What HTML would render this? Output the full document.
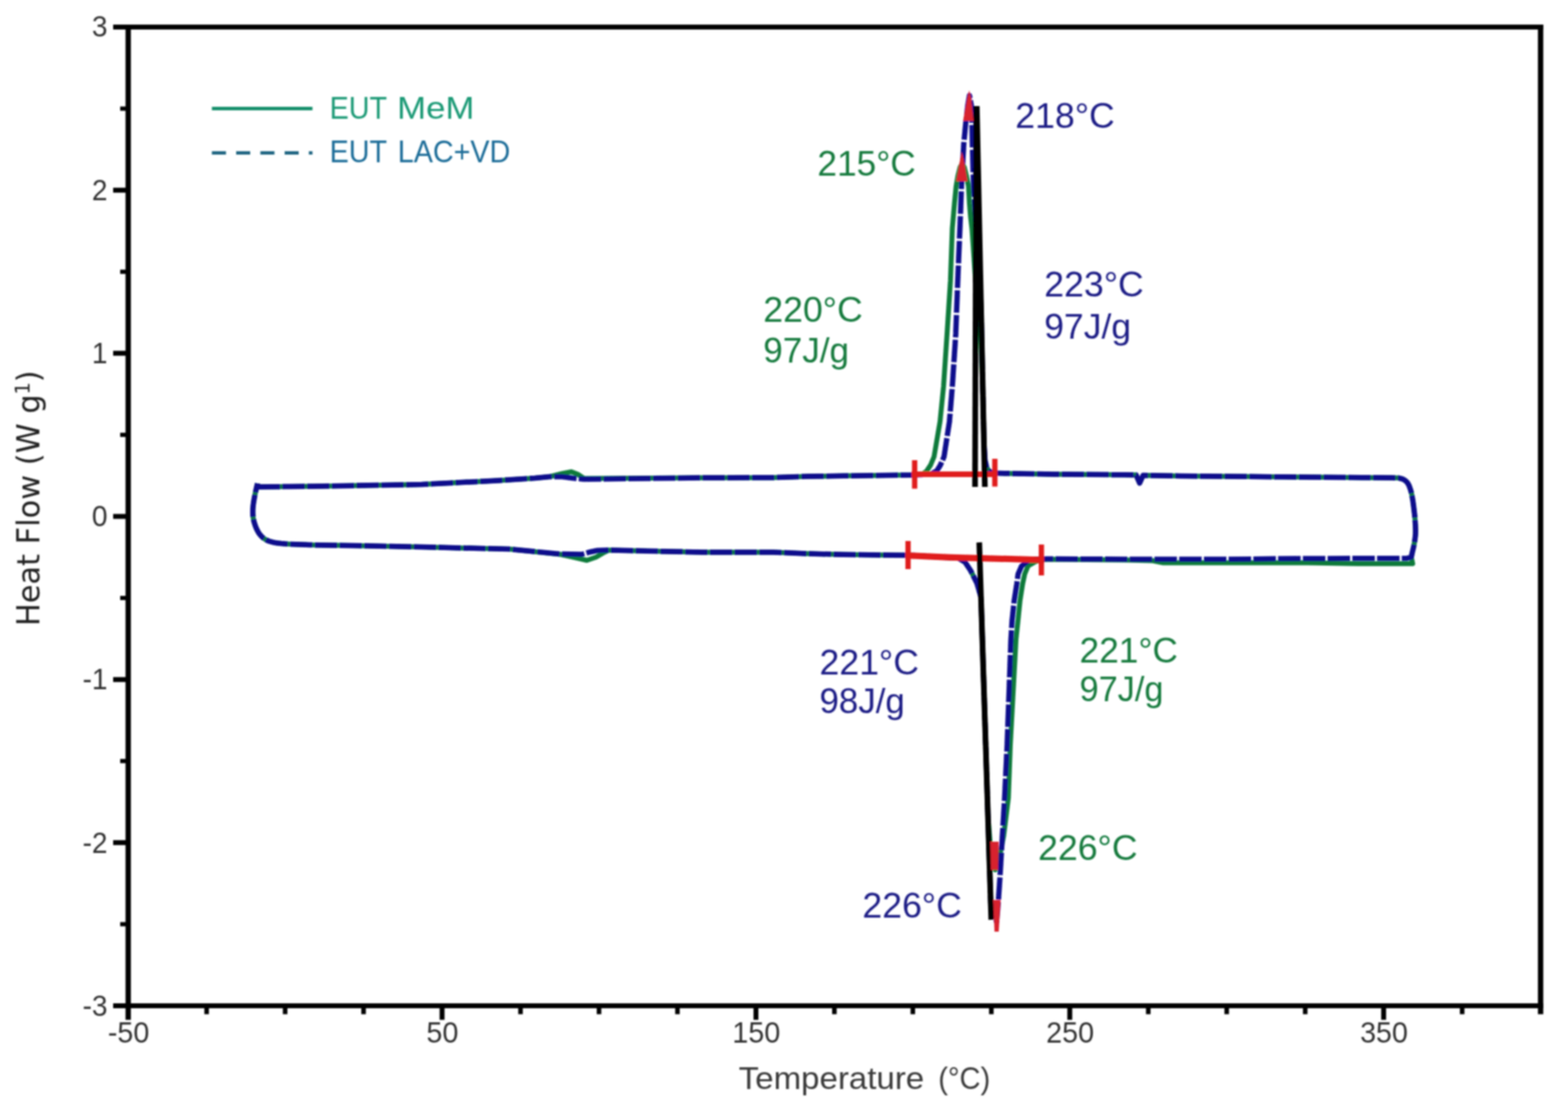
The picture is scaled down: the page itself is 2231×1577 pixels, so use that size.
<!DOCTYPE html>
<html lang="en"><head><meta charset="utf-8"><title>Heat Flow vs Temperature</title>
<style>
html,body{margin:0;padding:0;background:#fff;}
body{width:2231px;height:1577px;overflow:hidden;}
svg{display:block;}
.tk{font-family:"Liberation Sans",sans-serif;font-size:43px;fill:#333;}
.an{font-family:"Liberation Sans",sans-serif;font-size:50px;}
.b{fill:#1f1f86;}
.g{fill:#137a3e;}
.lg{font-family:"Liberation Sans",sans-serif;font-size:44px;}
.xl{font-family:"Liberation Sans",sans-serif;font-size:44px;fill:#3a3a3a;}
.yl{font-family:"DejaVu Sans",sans-serif;font-size:44px;fill:#222;}
</style></head><body>
<svg width="2231" height="1577" viewBox="0 0 2231 1577">
<defs><filter id="soft" x="0" y="0" width="2231" height="1577" filterUnits="userSpaceOnUse"><feGaussianBlur stdDeviation="0.9"/></filter></defs>
<rect x="0" y="0" width="2231" height="1577" fill="#ffffff"/>
<g filter="url(#soft)">
<g stroke="#000" fill="none" stroke-linecap="butt">
<line x1="161.0" y1="38.5" x2="2195.8" y2="38.5" stroke-width="7"/>
<line x1="161.0" y1="1431.5" x2="2195.8" y2="1431.5" stroke-width="7"/>
<line x1="182.4" y1="35.0" x2="182.4" y2="1451.5" stroke-width="7.6"/>
<line x1="2192.0" y1="35.0" x2="2192.0" y2="1443.5" stroke-width="7.6"/>
<line x1="171" y1="1315.4" x2="182.4" y2="1315.4" stroke-width="6"/>
<line x1="161" y1="1199.3" x2="182.4" y2="1199.3" stroke-width="7"/>
<line x1="171" y1="1083.2" x2="182.4" y2="1083.2" stroke-width="6"/>
<line x1="161" y1="967.2" x2="182.4" y2="967.2" stroke-width="7"/>
<line x1="171" y1="851.1" x2="182.4" y2="851.1" stroke-width="6"/>
<line x1="161" y1="735.0" x2="182.4" y2="735.0" stroke-width="7"/>
<line x1="171" y1="618.9" x2="182.4" y2="618.9" stroke-width="6"/>
<line x1="161" y1="502.8" x2="182.4" y2="502.8" stroke-width="7"/>
<line x1="171" y1="386.8" x2="182.4" y2="386.8" stroke-width="6"/>
<line x1="161" y1="270.7" x2="182.4" y2="270.7" stroke-width="7"/>
<line x1="171" y1="154.6" x2="182.4" y2="154.6" stroke-width="6"/>
<line x1="294.0" y1="1431.5" x2="294.0" y2="1443.5" stroke-width="6.5"/>
<line x1="405.7" y1="1431.5" x2="405.7" y2="1443.5" stroke-width="6.5"/>
<line x1="517.3" y1="1431.5" x2="517.3" y2="1443.5" stroke-width="6.5"/>
<line x1="629.0" y1="1431.5" x2="629.0" y2="1451.5" stroke-width="7"/>
<line x1="740.6" y1="1431.5" x2="740.6" y2="1443.5" stroke-width="6.5"/>
<line x1="852.3" y1="1431.5" x2="852.3" y2="1443.5" stroke-width="6.5"/>
<line x1="963.9" y1="1431.5" x2="963.9" y2="1443.5" stroke-width="6.5"/>
<line x1="1075.6" y1="1431.5" x2="1075.6" y2="1451.5" stroke-width="7"/>
<line x1="1187.2" y1="1431.5" x2="1187.2" y2="1443.5" stroke-width="6.5"/>
<line x1="1298.8" y1="1431.5" x2="1298.8" y2="1443.5" stroke-width="6.5"/>
<line x1="1410.5" y1="1431.5" x2="1410.5" y2="1443.5" stroke-width="6.5"/>
<line x1="1522.1" y1="1431.5" x2="1522.1" y2="1451.5" stroke-width="7"/>
<line x1="1633.8" y1="1431.5" x2="1633.8" y2="1443.5" stroke-width="6.5"/>
<line x1="1745.4" y1="1431.5" x2="1745.4" y2="1443.5" stroke-width="6.5"/>
<line x1="1857.1" y1="1431.5" x2="1857.1" y2="1443.5" stroke-width="6.5"/>
<line x1="1968.7" y1="1431.5" x2="1968.7" y2="1451.5" stroke-width="7"/>
<line x1="2080.4" y1="1431.5" x2="2080.4" y2="1443.5" stroke-width="6.5"/>
</g>
<text class="tk" transform="translate(153,51.5) scale(0.93,1)" text-anchor="end">3</text>
<text class="tk" transform="translate(153,284.9) scale(0.93,1)" text-anchor="end">2</text>
<text class="tk" transform="translate(153,517.0) scale(0.93,1)" text-anchor="end">1</text>
<text class="tk" transform="translate(153,749.2) scale(0.93,1)" text-anchor="end">0</text>
<text class="tk" transform="translate(153,981.4) scale(0.93,1)" text-anchor="end">-1</text>
<text class="tk" transform="translate(153,1213.5) scale(0.93,1)" text-anchor="end">-2</text>
<text class="tk" transform="translate(153,1445.7) scale(0.93,1)" text-anchor="end">-3</text>
<text class="tk" transform="translate(182.9,1483.8) scale(0.95,1)" text-anchor="middle">-50</text>
<text class="tk" transform="translate(629.5,1483.8) scale(0.95,1)" text-anchor="middle">50</text>
<text class="tk" transform="translate(1076.1,1483.8) scale(0.95,1)" text-anchor="middle">150</text>
<text class="tk" transform="translate(1522.6,1483.8) scale(0.95,1)" text-anchor="middle">250</text>
<text class="tk" transform="translate(1969.2,1483.8) scale(0.95,1)" text-anchor="middle">350</text>
<text class="xl" y="1549.5"><tspan x="1051" textLength="264" lengthAdjust="spacingAndGlyphs">Temperature</tspan> <tspan x="1335" textLength="74" lengthAdjust="spacingAndGlyphs">(°C)</tspan></text>
<text class="yl" transform="translate(56,891) rotate(-90)" textLength="364" lengthAdjust="spacingAndGlyphs">Heat Flow (W g<tspan dy="-14" font-size="28">1</tspan><tspan dy="14">)</tspan></text>
<path d="M366.5,693.0 L456.0,692.0 L600.0,689.5 L708.0,684.0 L761.0,680.5 L782.0,678.5 L800.0,674.0 L813.0,671.5 L822.0,675.0 L831.0,681.0 L1000.0,680.0 L1100.0,679.7 L1150.0,678.0 L1200.0,677.3 L1300.0,676.0 L1312.0,675.0 L1318.0,671.0 L1324.0,662.0 L1329.0,650.0 L1337.5,600.0 L1342.5,550.0 L1347.5,475.0 L1352.3,400.0 L1355.0,325.0 L1358.0,290.0 L1360.4,265.0 L1363.0,250.0 L1366.0,238.0 L1369.0,233.0 L1372.0,238.0 L1375.0,250.0 L1378.0,265.0 L1379.4,290.0 L1380.8,307.0 L1383.0,326.0 L1388.0,400.0 L1394.0,440.0 L1398.5,560.0 L1400.0,630.0 L1401.5,655.0 L1404.0,666.0 L1409.0,672.0 L1416.0,673.5 L1420.0,673.5 L1500.0,675.0 L1600.0,675.8 L1616.5,676.0 L1621.5,687.5 L1626.5,676.5 L1680.0,677.5 L1827.0,678.8 L1980.0,680.0 L1990.0,680.3 L1990.9,680.5 L1992.1,680.9 L1993.6,681.2 L1995.2,681.7 L1996.7,682.3 L1998.0,683.0 L1999.1,683.8 L2000.2,684.6 L2001.2,685.6 L2002.2,686.7 L2003.1,688.0 L2004.0,689.5 L2004.9,691.3 L2005.7,693.3 L2006.4,695.5 L2007.2,697.8 L2007.9,700.4 L2008.5,703.0 L2009.1,705.8 L2009.6,708.9 L2010.2,712.1 L2010.6,715.4 L2011.1,718.7 L2011.5,722.0 L2011.9,725.3 L2012.3,728.7 L2012.7,732.1 L2013.0,735.4 L2013.3,738.8 L2013.5,742.0 L2013.7,745.2 L2013.9,748.3 L2014.0,751.3 L2014.1,754.3 L2014.1,757.2 L2014.0,760.0 L2013.8,762.7 L2013.5,765.4 L2013.2,767.9 L2012.8,770.4 L2012.4,772.8 L2012.0,775.0 L2011.6,777.1 L2011.2,779.1 L2010.7,781.0 L2010.3,782.8 L2009.9,784.4 L2009.5,786.0 L2009.2,787.5 L2008.9,788.9 L2008.6,790.2 L2008.4,791.3 L2008.2,792.3 L2008.0,793.0 L2010.0,802.3 L1932.0,802.3 L1860.0,801.0 L1655.0,801.0 L1640.0,798.0 L1600.0,797.0 L1490.0,796.0 L1482.0,797.0 L1474.0,799.0 L1462.7,805.6 L1458.0,817.0 L1455.0,831.3 L1451.3,855.0 L1448.4,883.6 L1445.6,910.0 L1437.5,1060.0 L1434.7,1136.0 L1428.0,1190.0 L1421.0,1225.0 L1416.0,1238.0 L1410.0,1215.0 L1405.6,1160.0 L1402.5,1060.0 L1397.7,910.0 L1395.8,850.0 L1390.0,830.0 L1381.0,812.0 L1373.0,800.0 L1364.0,794.5 L1300.0,790.5 L1200.0,789.3 L1150.0,788.0 L1100.0,786.0 L1000.0,786.0 L866.0,783.0 L860.0,786.0 L848.0,793.0 L835.0,797.5 L820.0,794.0 L797.0,789.0 L725.0,781.6 L600.0,778.5 L500.0,776.5 L440.0,775.5 L435.4,775.3 L428.9,775.1 L421.2,774.8 L413.3,774.4 L405.9,774.0 L400.0,773.5 L395.5,773.0 L391.8,772.5 L388.7,771.9 L386.0,771.2 L383.5,770.5 L381.0,769.5 L378.7,768.4 L376.6,767.1 L374.7,765.8 L373.0,764.3 L371.5,762.7 L370.0,761.0 L368.6,759.2 L367.4,757.3 L366.3,755.3 L365.3,753.3 L364.4,751.2 L363.5,749.0 L362.7,746.8 L362.0,744.4 L361.3,742.1 L360.8,739.7 L360.3,737.3 L360.0,735.0 L359.8,732.8 L359.7,730.6 L359.7,728.5 L359.7,726.4 L359.8,724.2 L360.0,722.0 L360.2,719.7 L360.5,717.4 L360.8,715.1 L361.2,712.7 L361.6,710.3 L362.0,708.0 L362.5,705.6 L363.0,703.0 L363.5,700.5 L364.1,698.1 L364.6,695.9 L365.0,694.0 L365.4,692.5 L365.7,691.2 L365.9,690.1 L366.2,689.3 L366.4,688.6 L366.5,688.0" fill="none" stroke="#0b7a3b" stroke-width="7" stroke-linejoin="round" stroke-linecap="butt"/>
<path d="M366.5,693.0 L456.0,692.0 L600.0,689.5 L708.0,684.0 L761.0,680.5 L782.0,678.5 L800.0,678.5 L815.0,680.5 L831.0,682.0 L1000.0,680.0 L1100.0,679.7 L1150.0,678.0 L1200.0,677.3 L1300.0,676.0 L1324.0,675.0 L1333.0,670.0 L1338.0,662.0 L1343.2,650.0 L1350.9,600.0 L1355.0,550.0 L1359.9,475.0 L1362.7,400.0 L1366.4,310.0 L1368.0,265.0 L1371.3,205.0 L1374.0,176.0 L1377.0,150.0 L1379.4,136.0 L1382.0,150.0 L1383.0,176.0 L1383.5,205.0 L1385.0,260.0 L1389.0,330.0 L1394.0,400.0 L1396.0,440.0 L1398.5,560.0 L1400.0,630.0 L1401.5,655.0 L1404.0,666.0 L1409.0,672.0 L1416.0,673.5 L1420.0,673.5 L1500.0,675.0 L1600.0,675.8 L1616.5,676.0 L1621.5,687.5 L1626.5,676.5 L1680.0,677.5 L1827.0,678.8 L1980.0,680.0 L1990.0,680.3 L1990.9,680.5 L1992.1,680.9 L1993.6,681.2 L1995.2,681.7 L1996.7,682.3 L1998.0,683.0 L1999.1,683.8 L2000.2,684.6 L2001.2,685.6 L2002.2,686.7 L2003.1,688.0 L2004.0,689.5 L2004.9,691.3 L2005.7,693.3 L2006.4,695.5 L2007.2,697.8 L2007.9,700.4 L2008.5,703.0 L2009.1,705.8 L2009.6,708.9 L2010.2,712.1 L2010.6,715.4 L2011.1,718.7 L2011.5,722.0 L2011.9,725.3 L2012.3,728.7 L2012.7,732.1 L2013.0,735.4 L2013.3,738.8 L2013.5,742.0 L2013.7,745.2 L2013.9,748.3 L2014.0,751.3 L2014.1,754.3 L2014.1,757.2 L2014.0,760.0 L2013.8,762.7 L2013.5,765.4 L2013.2,767.9 L2012.8,770.4 L2012.4,772.8 L2012.0,775.0 L2011.6,777.1 L2011.2,779.1 L2010.7,781.0 L2010.3,782.8 L2009.9,784.4 L2009.5,786.0 L2009.2,787.5 L2008.9,788.9 L2008.6,790.2 L2008.4,791.3 L2008.2,792.3 L2008.0,793.0 L2002.0,794.7 L1860.0,795.0 L1740.0,796.0 L1600.0,796.0 L1490.0,795.5 L1472.0,796.0 L1462.0,799.0 L1453.6,805.6 L1448.6,817.0 L1446.7,831.3 L1443.0,855.0 L1440.0,883.6 L1438.4,910.0 L1433.0,1060.0 L1429.4,1136.0 L1425.6,1200.0 L1422.7,1250.0 L1420.0,1290.0 L1418.0,1312.0 L1414.0,1300.0 L1409.6,1285.0 L1406.9,1200.0 L1402.5,1060.0 L1397.7,910.0 L1395.8,850.0 L1390.0,830.0 L1381.0,812.0 L1373.0,800.0 L1364.0,794.5 L1300.0,790.5 L1200.0,789.3 L1150.0,788.0 L1100.0,786.0 L1000.0,786.0 L866.0,783.0 L850.0,783.5 L838.0,786.0 L828.0,789.0 L797.0,788.5 L725.0,781.6 L600.0,778.5 L500.0,776.5 L440.0,775.5 L435.4,775.3 L428.9,775.1 L421.2,774.8 L413.3,774.4 L405.9,774.0 L400.0,773.5 L395.5,773.0 L391.8,772.5 L388.7,771.9 L386.0,771.2 L383.5,770.5 L381.0,769.5 L378.7,768.4 L376.6,767.1 L374.7,765.8 L373.0,764.3 L371.5,762.7 L370.0,761.0 L368.6,759.2 L367.4,757.3 L366.3,755.3 L365.3,753.3 L364.4,751.2 L363.5,749.0 L362.7,746.8 L362.0,744.4 L361.3,742.1 L360.8,739.7 L360.3,737.3 L360.0,735.0 L359.8,732.8 L359.7,730.6 L359.7,728.5 L359.7,726.4 L359.8,724.2 L360.0,722.0 L360.2,719.7 L360.5,717.4 L360.8,715.1 L361.2,712.7 L361.6,710.3 L362.0,708.0 L362.5,705.6 L363.0,703.0 L363.5,700.5 L364.1,698.1 L364.6,695.9 L365.0,694.0 L365.4,692.5 L365.7,691.2 L365.9,690.1 L366.2,689.3 L366.4,688.6 L366.5,688.0" fill="none" stroke="#0a0a8c" stroke-width="7.5" stroke-linejoin="round" stroke-linecap="butt" stroke-dasharray="32 3.2"/>
<g stroke="#e01b1b" fill="none" stroke-linecap="butt">
<line x1="1297" y1="675" x2="1419" y2="675" stroke-width="8"/>
<line x1="1301.4" y1="655" x2="1301.4" y2="695.5" stroke-width="7.5"/>
<line x1="1415.5" y1="653" x2="1415.5" y2="692.5" stroke-width="7.5"/>
<path d="M1288.5,790.4 L1350,793.2 L1485.5,797" stroke-width="9"/>
<line x1="1292" y1="770" x2="1292" y2="810" stroke-width="7.5"/>
<line x1="1481.7" y1="775" x2="1481.7" y2="819" stroke-width="7.5"/>
</g>
<g stroke="#000" stroke-width="8" fill="none" stroke-linecap="butt">
<line x1="1389" y1="151" x2="1387.3" y2="693"/>
<line x1="1389.8" y1="151" x2="1401.3" y2="693"/>
<line x1="1393.3" y1="772" x2="1410.4" y2="1309"/>
</g>
<g fill="#d8232f" stroke="none">
<path d="M1379,128.5 L1381.8,140 L1385.2,172 L1370.3,172 L1376.2,140 Z"/>
<path d="M1368.6,216 L1371,226 L1376.6,258 L1360.4,258 L1366.3,226 Z"/>
<path d="M1409,1198 L1421,1198 L1420,1238 L1410,1238 Z"/>
<path d="M1413.2,1281 L1423.7,1281 L1421,1326 L1415,1326 Z"/>
</g>
<text class="an b" x="1444.6" y="182.2" textLength="141.5" lengthAdjust="spacingAndGlyphs">218°C</text>
<text class="an g" x="1163.0" y="250.3" textLength="140.0" lengthAdjust="spacingAndGlyphs">215°C</text>
<text class="an g" x="1086.0" y="458.3" textLength="141.5" lengthAdjust="spacingAndGlyphs">220°C</text>
<text class="an g" x="1086.0" y="515.6" textLength="122.0" lengthAdjust="spacingAndGlyphs">97J/g</text>
<text class="an b" x="1485.8" y="422.4" textLength="141.5" lengthAdjust="spacingAndGlyphs">223°C</text>
<text class="an b" x="1485.8" y="481.6" textLength="123.5" lengthAdjust="spacingAndGlyphs">97J/g</text>
<text class="an b" x="1166.0" y="959.8" textLength="141.5" lengthAdjust="spacingAndGlyphs">221°C</text>
<text class="an b" x="1166.0" y="1015.0" textLength="121.5" lengthAdjust="spacingAndGlyphs">98J/g</text>
<text class="an g" x="1536.0" y="942.5" textLength="140.0" lengthAdjust="spacingAndGlyphs">221°C</text>
<text class="an g" x="1536.0" y="998.4" textLength="119.5" lengthAdjust="spacingAndGlyphs">97J/g</text>
<text class="an g" x="1477.0" y="1223.9" textLength="141.5" lengthAdjust="spacingAndGlyphs">226°C</text>
<text class="an b" x="1227.0" y="1306.3" textLength="141.5" lengthAdjust="spacingAndGlyphs">226°C</text>
<line x1="301.5" y1="154.5" x2="444.6" y2="154.5" stroke="#178f6c" stroke-width="5"/>
<line x1="301.5" y1="217.6" x2="444.6" y2="217.6" stroke="#1b6380" stroke-width="4.8" stroke-dasharray="20 14.5"/>
<text class="lg" y="169" fill="#1a9a76"><tspan x="469" textLength="81" lengthAdjust="spacingAndGlyphs">EUT</tspan> <tspan x="565" textLength="110" lengthAdjust="spacingAndGlyphs">MeM</tspan></text>
<text class="lg" y="230.5" fill="#1d6d99"><tspan x="469" textLength="81" lengthAdjust="spacingAndGlyphs">EUT</tspan> <tspan x="566" textLength="160" lengthAdjust="spacingAndGlyphs">LAC+VD</tspan></text>
</g>
</svg>
</body></html>
